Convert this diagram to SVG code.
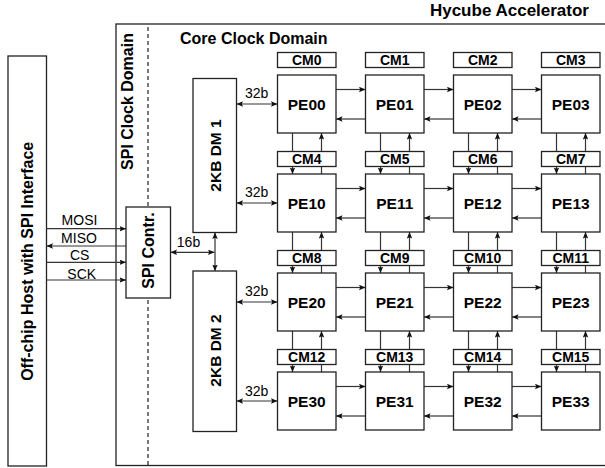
<svg xmlns="http://www.w3.org/2000/svg" width="605" height="468" viewBox="0 0 605 468">
<style>
text{font-family:"Liberation Sans",Arial,Helvetica,sans-serif;fill:#000}
.b{font-weight:bold}
.box{fill:#fff;stroke:#222;stroke-width:1.3}
.ln{stroke:#333;stroke-width:1.2;fill:none}
.a{marker-end:url(#ah)}
.d{marker-end:url(#ah);marker-start:url(#ah)}
.cm{font-size:14px;font-weight:bold;text-anchor:middle}
.pe{font-size:15.5px;font-weight:bold;text-anchor:middle}
.lb{font-size:14px;text-anchor:middle}
</style>
<defs>
<marker id="ah" markerUnits="userSpaceOnUse" markerWidth="7" markerHeight="6" refX="6.5" refY="2.75" orient="auto-start-reverse">
<path d="M0,0 L6.5,2.75 L0,5.5 L1.2,2.75 Z" fill="#111"/>
</marker>
</defs>
<rect width="605" height="468" fill="#fff"/>
<g id="accelerator">
<rect x="116" y="24" width="500" height="441.5" fill="none" stroke="#222" stroke-width="1.3"/>
<text class="b" x="589" y="16" font-size="17" text-anchor="end">Hycube Accelerator</text>
<text class="b" x="180" y="44" font-size="16">Core Clock Domain</text>
<line x1="148" y1="27" x2="148" y2="465" stroke="#222" stroke-width="1.2" stroke-dasharray="4,3"/>
<text class="b" font-size="16" text-anchor="middle" transform="translate(133.3,101.5) rotate(-90)">SPI Clock Domain</text>
</g>
<g id="host">
<rect class="box" x="8" y="56" width="38.5" height="410"/>
<text class="b" font-size="16" text-anchor="middle" transform="translate(33.3,261.3) rotate(-90)">Off-chip Host with SPI Interface</text>
</g>
<g id="connectors">
<line class="ln a" x1="46.5" y1="228.7" x2="126" y2="228.7"/>
<line class="ln a" x1="126" y1="246" x2="46.5" y2="246"/>
<line class="ln a" x1="46.5" y1="262.3" x2="126" y2="262.3"/>
<line class="ln a" x1="46.5" y1="280" x2="126" y2="280"/>
<text class="lb" x="79.5" y="225">MOSI</text>
<text class="lb" x="79" y="242.5">MISO</text>
<text class="lb" x="79.7" y="259.5">CS</text>
<text class="lb" x="81.7" y="278.5">SCK</text>
<line class="ln d" x1="170.5" y1="252.3" x2="214.5" y2="252.3"/>
<text class="lb" x="188.5" y="247.3">16b</text>
<line class="ln d" x1="215" y1="232.5" x2="215" y2="271"/>
<line class="ln d" x1="236.5" y1="104" x2="277.5" y2="104"/>
<line class="ln d" x1="236.5" y1="203" x2="277.5" y2="203"/>
<line class="ln d" x1="236.5" y1="302" x2="277.5" y2="302"/>
<line class="ln d" x1="236.5" y1="401" x2="277.5" y2="401"/>
<text class="lb" x="256.7" y="98.3">32b</text>
<text class="lb" x="256.7" y="197.3">32b</text>
<text class="lb" x="256.7" y="296.3">32b</text>
<text class="lb" x="256.7" y="395.7">32b</text>
<!-- horizontal PE links -->
<line class="ln a" x1="336" y1="89.5" x2="365.5" y2="89.5"/><line class="ln a" x1="365.5" y1="119" x2="336" y2="119"/>
<line class="ln a" x1="424" y1="89.5" x2="453.5" y2="89.5"/><line class="ln a" x1="453.5" y1="119" x2="424" y2="119"/>
<line class="ln a" x1="512" y1="89.5" x2="541.5" y2="89.5"/><line class="ln a" x1="541.5" y1="119" x2="512" y2="119"/>
<line class="ln a" x1="336" y1="188.5" x2="365.5" y2="188.5"/><line class="ln a" x1="365.5" y1="218" x2="336" y2="218"/>
<line class="ln a" x1="424" y1="188.5" x2="453.5" y2="188.5"/><line class="ln a" x1="453.5" y1="218" x2="424" y2="218"/>
<line class="ln a" x1="512" y1="188.5" x2="541.5" y2="188.5"/><line class="ln a" x1="541.5" y1="218" x2="512" y2="218"/>
<line class="ln a" x1="336" y1="287.5" x2="365.5" y2="287.5"/><line class="ln a" x1="365.5" y1="317" x2="336" y2="317"/>
<line class="ln a" x1="424" y1="287.5" x2="453.5" y2="287.5"/><line class="ln a" x1="453.5" y1="317" x2="424" y2="317"/>
<line class="ln a" x1="512" y1="287.5" x2="541.5" y2="287.5"/><line class="ln a" x1="541.5" y1="317" x2="512" y2="317"/>
<line class="ln a" x1="336" y1="386.5" x2="365.5" y2="386.5"/><line class="ln a" x1="365.5" y1="416" x2="336" y2="416"/>
<line class="ln a" x1="424" y1="386.5" x2="453.5" y2="386.5"/><line class="ln a" x1="453.5" y1="416" x2="424" y2="416"/>
<line class="ln a" x1="512" y1="386.5" x2="541.5" y2="386.5"/><line class="ln a" x1="541.5" y1="416" x2="512" y2="416"/>
<!-- vertical PE links -->
<line class="ln a" x1="292.5" y1="133" x2="292.5" y2="174"/><line class="ln a" x1="321.5" y1="174" x2="321.5" y2="133"/>
<line class="ln a" x1="380.5" y1="133" x2="380.5" y2="174"/><line class="ln a" x1="409.5" y1="174" x2="409.5" y2="133"/>
<line class="ln a" x1="468.5" y1="133" x2="468.5" y2="174"/><line class="ln a" x1="497.5" y1="174" x2="497.5" y2="133"/>
<line class="ln a" x1="556.5" y1="133" x2="556.5" y2="174"/><line class="ln a" x1="585.5" y1="174" x2="585.5" y2="133"/>
<line class="ln a" x1="292.5" y1="232" x2="292.5" y2="273"/><line class="ln a" x1="321.5" y1="273" x2="321.5" y2="232"/>
<line class="ln a" x1="380.5" y1="232" x2="380.5" y2="273"/><line class="ln a" x1="409.5" y1="273" x2="409.5" y2="232"/>
<line class="ln a" x1="468.5" y1="232" x2="468.5" y2="273"/><line class="ln a" x1="497.5" y1="273" x2="497.5" y2="232"/>
<line class="ln a" x1="556.5" y1="232" x2="556.5" y2="273"/><line class="ln a" x1="585.5" y1="273" x2="585.5" y2="232"/>
<line class="ln a" x1="292.5" y1="331" x2="292.5" y2="372"/><line class="ln a" x1="321.5" y1="372" x2="321.5" y2="331"/>
<line class="ln a" x1="380.5" y1="331" x2="380.5" y2="372"/><line class="ln a" x1="409.5" y1="372" x2="409.5" y2="331"/>
<line class="ln a" x1="468.5" y1="331" x2="468.5" y2="372"/><line class="ln a" x1="497.5" y1="372" x2="497.5" y2="331"/>
<line class="ln a" x1="556.5" y1="331" x2="556.5" y2="372"/><line class="ln a" x1="585.5" y1="372" x2="585.5" y2="331"/>
</g>
<g id="spi-contr">
<rect class="box" x="126" y="207" width="44.5" height="91"/>
<text class="b" font-size="16" text-anchor="middle" transform="translate(154,250.5) rotate(-90)">SPI Contr.</text>
</g>
<g id="dm1">
<rect class="box" x="193" y="78.5" width="43.5" height="154"/>
<text class="b" font-size="15.5" text-anchor="middle" transform="translate(221,155.5) rotate(-90)">2KB DM 1</text>
</g>
<g id="dm2">
<rect class="box" x="193" y="271" width="43.5" height="160.5"/>
<text class="b" font-size="15.5" text-anchor="middle" transform="translate(221,350.5) rotate(-90)">2KB DM 2</text>
</g>
<g id="cm0"><rect class="box" x="277.5" y="52.5" width="58.5" height="15"/><text class="cm" x="306.75" y="65">CM0</text></g>
<g id="cm1"><rect class="box" x="365.5" y="52.5" width="58.5" height="15"/><text class="cm" x="394.75" y="65">CM1</text></g>
<g id="cm2"><rect class="box" x="453.5" y="52.5" width="58.5" height="15"/><text class="cm" x="482.75" y="65">CM2</text></g>
<g id="cm3"><rect class="box" x="541.5" y="52.5" width="58.5" height="15"/><text class="cm" x="570.75" y="65">CM3</text></g>
<g id="cm4"><rect class="box" x="277.5" y="151.5" width="58.5" height="15"/><text class="cm" x="306.75" y="164">CM4</text></g>
<g id="cm5"><rect class="box" x="365.5" y="151.5" width="58.5" height="15"/><text class="cm" x="394.75" y="164">CM5</text></g>
<g id="cm6"><rect class="box" x="453.5" y="151.5" width="58.5" height="15"/><text class="cm" x="482.75" y="164">CM6</text></g>
<g id="cm7"><rect class="box" x="541.5" y="151.5" width="58.5" height="15"/><text class="cm" x="570.75" y="164">CM7</text></g>
<g id="cm8"><rect class="box" x="277.5" y="250.5" width="58.5" height="15"/><text class="cm" x="306.75" y="263">CM8</text></g>
<g id="cm9"><rect class="box" x="365.5" y="250.5" width="58.5" height="15"/><text class="cm" x="394.75" y="263">CM9</text></g>
<g id="cm10"><rect class="box" x="453.5" y="250.5" width="58.5" height="15"/><text class="cm" x="482.75" y="263">CM10</text></g>
<g id="cm11"><rect class="box" x="541.5" y="250.5" width="58.5" height="15"/><text class="cm" x="570.75" y="263">CM11</text></g>
<g id="cm12"><rect class="box" x="277.5" y="349.5" width="58.5" height="15"/><text class="cm" x="306.75" y="362">CM12</text></g>
<g id="cm13"><rect class="box" x="365.5" y="349.5" width="58.5" height="15"/><text class="cm" x="394.75" y="362">CM13</text></g>
<g id="cm14"><rect class="box" x="453.5" y="349.5" width="58.5" height="15"/><text class="cm" x="482.75" y="362">CM14</text></g>
<g id="cm15"><rect class="box" x="541.5" y="349.5" width="58.5" height="15"/><text class="cm" x="570.75" y="362">CM15</text></g>
<g id="pe00"><rect class="box" x="277.5" y="75" width="58.5" height="58"/><text class="pe" x="306.75" y="110">PE00</text></g>
<g id="pe01"><rect class="box" x="365.5" y="75" width="58.5" height="58"/><text class="pe" x="394.75" y="110">PE01</text></g>
<g id="pe02"><rect class="box" x="453.5" y="75" width="58.5" height="58"/><text class="pe" x="482.75" y="110">PE02</text></g>
<g id="pe03"><rect class="box" x="541.5" y="75" width="58.5" height="58"/><text class="pe" x="570.75" y="110">PE03</text></g>
<g id="pe10"><rect class="box" x="277.5" y="174" width="58.5" height="58"/><text class="pe" x="306.75" y="209">PE10</text></g>
<g id="pe11"><rect class="box" x="365.5" y="174" width="58.5" height="58"/><text class="pe" x="394.75" y="209">PE11</text></g>
<g id="pe12"><rect class="box" x="453.5" y="174" width="58.5" height="58"/><text class="pe" x="482.75" y="209">PE12</text></g>
<g id="pe13"><rect class="box" x="541.5" y="174" width="58.5" height="58"/><text class="pe" x="570.75" y="209">PE13</text></g>
<g id="pe20"><rect class="box" x="277.5" y="273" width="58.5" height="58"/><text class="pe" x="306.75" y="308">PE20</text></g>
<g id="pe21"><rect class="box" x="365.5" y="273" width="58.5" height="58"/><text class="pe" x="394.75" y="308">PE21</text></g>
<g id="pe22"><rect class="box" x="453.5" y="273" width="58.5" height="58"/><text class="pe" x="482.75" y="308">PE22</text></g>
<g id="pe23"><rect class="box" x="541.5" y="273" width="58.5" height="58"/><text class="pe" x="570.75" y="308">PE23</text></g>
<g id="pe30"><rect class="box" x="277.5" y="372" width="58.5" height="58"/><text class="pe" x="306.75" y="407">PE30</text></g>
<g id="pe31"><rect class="box" x="365.5" y="372" width="58.5" height="58"/><text class="pe" x="394.75" y="407">PE31</text></g>
<g id="pe32"><rect class="box" x="453.5" y="372" width="58.5" height="58"/><text class="pe" x="482.75" y="407">PE32</text></g>
<g id="pe33"><rect class="box" x="541.5" y="372" width="58.5" height="58"/><text class="pe" x="570.75" y="407">PE33</text></g>
</svg>
